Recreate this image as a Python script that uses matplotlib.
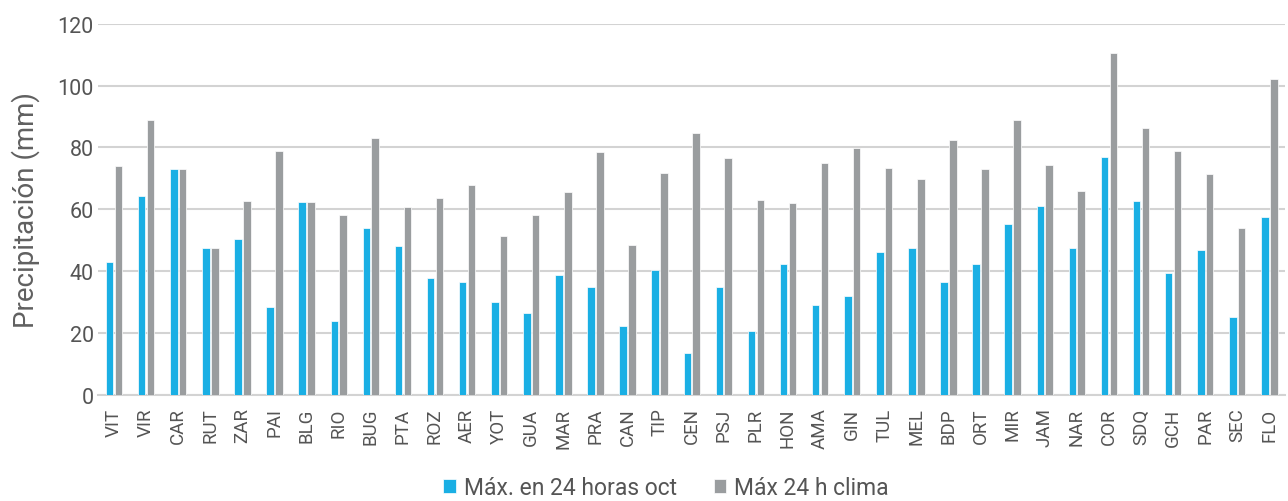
import matplotlib
matplotlib.use("Agg")
import matplotlib.pyplot as plt
import numpy as np

categories = ["VIT", "VIR", "CAR", "RUT", "ZAR", "PAI", "BLG", "RIO", "BUG", "PTA",
              "ROZ", "AER", "YOT", "GUA", "MAR", "PRA", "CAN", "TIP", "CEN", "PSJ",
              "PLR", "HON", "AMA", "GIN", "TUL", "MEL", "BDP", "ORT", "MIR", "JAM",
              "NAR", "COR", "SDQ", "GCH", "PAR", "SEC", "FLO"]
max_oct = [43.1, 64.4, 72.9, 47.5, 50.3, 28.4, 62.5, 23.9, 53.9, 48.2,
           37.8, 36.5, 30.2, 26.6, 38.7, 35.0, 22.2, 40.3, 13.5, 35.0,
           20.8, 42.3, 29.1, 32.1, 46.2, 47.4, 36.6, 42.3, 55.3, 61.0,
           47.5, 77.0, 62.6, 39.4, 46.9, 25.2, 57.4]
max_clima = [73.9, 88.8, 72.9, 47.5, 62.7, 78.9, 62.5, 58.2, 83.1, 60.6,
             63.7, 67.8, 51.5, 58.2, 65.5, 78.4, 48.6, 71.9, 84.8, 76.7,
             63.0, 61.9, 75.0, 79.8, 73.3, 69.8, 82.3, 72.9, 88.8, 74.4,
             65.8, 110.4, 86.3, 79.0, 71.5, 53.9, 102.2]
yticks = [0, 20, 40, 60, 80, 100, 120]

blue = "#1AAFE4"
gray = "#9A9D9F"
text_col = "#555555"

fig = plt.figure(figsize=(12.88, 5.02), dpi=100)
ax = fig.add_axes([0.0761, 0.2112, 0.9219, 0.7396])

x = np.arange(len(categories))
w = 0.235
off = 0.138
ax.bar(x - off, max_oct, width=w, color=blue, edgecolor="white", linewidth=0.5,
       label="Máx. en 24 horas oct", zorder=3)
ax.bar(x + off, max_clima, width=w, color=gray, edgecolor="white", linewidth=0.5,
       label="Máx 24 h clima", zorder=3)

ax.set_xlim(-0.5, len(categories) - 0.5)
ax.set_ylim(0, 120)
ax.set_yticks(yticks)
ax.yaxis.grid(True, color="#D3D3D3", linewidth=1.5, zorder=0)
ax.set_axisbelow(True)
for s in ["top", "right", "left"]:
    ax.spines[s].set_visible(False)
ax.spines["bottom"].set_color("#D3D3D3")
ax.spines["bottom"].set_linewidth(1.5)
ax.tick_params(axis="both", length=0)
ax.tick_params(axis="y", pad=3)
ax.tick_params(axis="x", pad=9)
ax.set_xticks(x)
ax.set_xticklabels(categories, rotation=90, fontsize=13.5, color=text_col,
                   family="Roboto")
for lab in ax.get_yticklabels():
    lab.set_fontsize(15.5)
    lab.set_color(text_col)
    lab.set_family("Roboto")
ax.set_ylabel("Precipitación (mm)", fontsize=20, color="#606060", family="Roboto")
ax.yaxis.set_label_coords(-0.049, 0.5)

leg = fig.legend(loc="center", bbox_to_anchor=(666 / 1288, 1 - 489 / 502), ncol=2,
                 frameon=False, prop={"family": "Roboto", "size": 16.5},
                 handlelength=0.55, handleheight=0.55, handletextpad=0.35,
                 columnspacing=1.6)
for t in leg.get_texts():
    t.set_color(text_col)

fig.savefig("out.png", dpi=100)
